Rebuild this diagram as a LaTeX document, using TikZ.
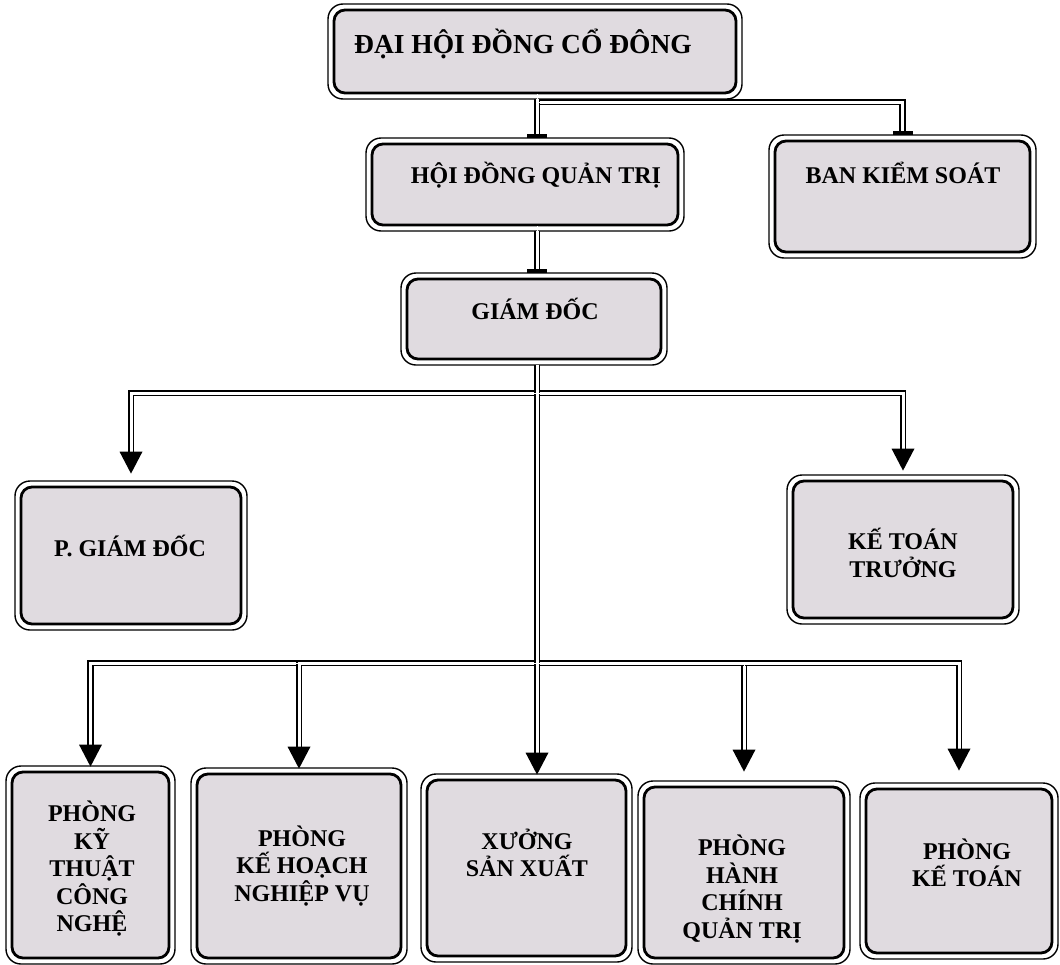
\documentclass[tikz,border=0pt]{standalone}
\usepackage{fontspec}
\setmainfont{Liberation Serif}
\usetikzlibrary{arrows.meta}
\definecolor{boxfill}{RGB}{224,219,224}
\begin{document}
\begin{tikzpicture}[x=1pt,y=-1pt,
  box/.style={draw=black, line width=2.8pt, fill=boxfill, rounded corners=11pt, inner sep=0pt},
  rim/.style={draw=black, line width=1.4pt, rounded corners=15pt},
  lbl/.style={font=\bfseries\fontsize{24}{27.5}\selectfont, align=center, inner sep=0pt},
  toplbl/.style={lbl, font=\bfseries\fontsize{27.5}{30}\selectfont},
  conn/.style={draw=black, line width=1.9pt, double=white, double distance=3pt},
  tipline/.style={draw=white, line width=0.3pt, -{Triangle[width=23pt,length=22pt,line width=0pt,color=black,fill=black]}},
  barline/.style={draw=white, line width=0.3pt, -{Rectangle[width=20pt,length=4pt,line width=0pt,color=black,fill=black]}}]
\useasboundingbox (0,0) rectangle (1060,964);
\fill[white] (0,0) rectangle (1060,964);

% boxes
\node[box, minimum width=402pt, minimum height=83pt] (dh) at (535,51.5) {};
\node[box, minimum width=306pt, minimum height=81pt] (hdqt) at (525,184.5) {};
\node[box, minimum width=255pt, minimum height=111pt] (bks) at (902.5,196.5) {};
\node[box, minimum width=254pt, minimum height=80pt] (gd) at (534,319) {};
\node[box, minimum width=220pt, minimum height=137pt] (pgd) at (131,555.5) {};
\node[box, minimum width=220pt, minimum height=137pt] (ktt) at (903,549.5) {};
\node[box, minimum width=157pt, minimum height=186pt] (p1) at (90.5,865) {};
\node[box, minimum width=204pt, minimum height=184pt] (p2) at (299,866) {};
\node[box, minimum width=199pt, minimum height=176pt] (xsx) at (526.5,868) {};
\node[box, minimum width=200pt, minimum height=171pt] (hcqt) at (744,872.5) {};
\node[box, minimum width=186pt, minimum height=164pt] (pkt) at (959,871) {};
\foreach \n in {dh,hdqt,bks,gd,pgd,ktt,p1,p2,xsx,hcqt,pkt}
  \draw[rim] ([shift={(-4.6,-4.6)}]\n.north west) rectangle ([shift={(4.6,4.6)}]\n.south east);

% labels
\node[toplbl] (tdh) at (523,44) {ĐẠI HỘI ĐỒNG CỔ ĐÔNG};
\node[lbl] (thdqt) at (536,175) {HỘI ĐỒNG QUẢN TRỊ};
\node[lbl] (tbks) at (903,173) {BAN KIỂM SOÁT};
\node[lbl] (tgd) at (535,309) {GIÁM ĐỐC};
\node[lbl] (tpgd) at (130,546) {P. GIÁM ĐỐC};
\node[lbl] (tktt) at (903,553) {KẾ TOÁN\\TRƯỞNG};
\node[lbl] (tp1) at (92,869) {PHÒNG\\KỸ\\THUẬT\\CÔNG\\NGHỆ};
\node[lbl] (tp2) at (302,866) {PHÒNG\\KẾ HOẠCH\\NGHIỆP VỤ};
\node[lbl] (txsx) at (527,853) {XƯỞNG\\SẢN XUẤT};
\node[lbl] (thcqt) at (742,889) {PHÒNG\\HÀNH\\CHÍNH\\QUẢN TRỊ};
\node[lbl] (tpkt) at (967,863) {PHÒNG\\KẾ TOÁN};

% connectors
\coordinate (spine) at (537,0);
\coordinate (j1) at (537,102);
\coordinate (j2) at (537,393);
\coordinate (j3) at (537,663);

\draw[conn, shorten >=5pt] (j1) -| (bks.north);
\draw[conn, shorten <=4.6pt, shorten >=5pt] (dh.south -| spine) -- (hdqt.north -| spine);
\draw[conn, shorten <=4.6pt, shorten >=5pt] (hdqt.south -| spine) -- (gd.north -| spine);
\draw[barline, shorten >=5pt] (j1) -| (bks.north);
\draw[barline, shorten >=5pt] (dh.south -| spine) -- (hdqt.north -| spine);
\draw[barline, shorten >=5pt] (hdqt.south -| spine) -- (gd.north -| spine);

\draw[conn, shorten >=22pt] (j2) -| (pgd.north);
\draw[conn, shorten >=19pt] (j2) -| (ktt.north);
\draw[conn, shorten >=14pt] (j3) -| (p1.north);
\draw[conn, shorten >=14pt] (j3) -| (p2.north);
\draw[conn, shorten >=24pt] (j3) -| (hcqt.north);
\draw[conn, shorten >=27pt] (j3) -| (pkt.north);
\draw[conn, shorten <=4.6pt, shorten >=14pt] (gd.south -| spine) -- (xsx.north -| spine);

\draw[tipline, shorten >=12pt] (j2) -| (pgd.north);
\draw[tipline, shorten >=9pt] (j2) -| (ktt.north);
\draw[tipline, shorten >=4pt] (j3) -| (p1.north);
\draw[tipline, shorten >=4pt] (j3) -| (p2.north);
\draw[tipline, shorten >=14pt] (j3) -| (hcqt.north);
\draw[tipline, shorten >=17pt] (j3) -| (pkt.north);
\draw[tipline, shorten <=4.6pt, shorten >=4pt] (gd.south -| spine) -- (xsx.north -| spine);
\end{tikzpicture}
\end{document}
